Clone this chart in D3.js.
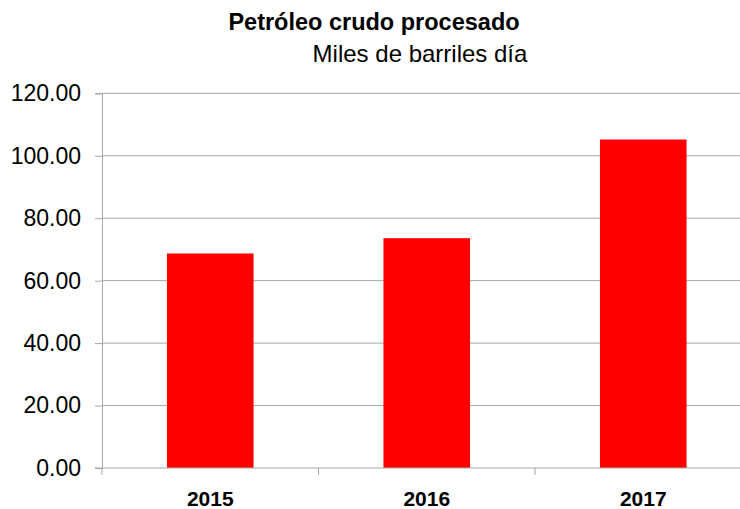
<!DOCTYPE html>
<html>
<head>
<meta charset="utf-8">
<script src="https://cdn.jsdelivr.net/npm/d3@7"></script>
<style>
  html, body { margin: 0; padding: 0; background: #fff; }
  svg { display: block; font-family: "Liberation Sans", Arial, sans-serif; }
</style>
</head>
<body>
<svg id="chart" width="740" height="509"></svg>
<script>
var years = ['2015', '2016', '2017'];
var barrels = [68.7, 73.6, 105.2];
var yTicks = [0, 20, 40, 60, 80, 100, 120];

(function () {
  'use strict';

  var svg = d3.select('#chart');
  var left = 102, top = 93.3, bottom = 468, band = 216.5;

  var x = d3.scaleBand()
    .domain(years)
    .range([left, left + band * years.length])
    .paddingInner(0.6)
    .paddingOuter(0.3);

  var y = d3.scaleLinear()
    .domain([0, 120])
    .range([bottom, top]);

  // gridlines
  svg.append('g')
    .selectAll('line')
    .data(yTicks.slice(1))
    .enter()
    .append('line')
    .attr('x1', left)
    .attr('x2', 740)
    .attr('y1', function (d) { return y(d); })
    .attr('y2', function (d) { return y(d); })
    .attr('stroke', '#a6a6a6')
    .attr('stroke-width', 1);

  // bars
  svg.append('g')
    .selectAll('rect')
    .data(barrels)
    .enter()
    .append('rect')
    .attr('x', function (d, i) { return x(years[i]); })
    .attr('width', x.bandwidth())
    .attr('y', function (d) { return y(d); })
    .attr('height', function (d) { return y(0) - y(d); })
    .attr('fill', '#ff0000');

  // y axis
  var yAxis = svg.append('g')
    .attr('transform', 'translate(' + left + ',0)')
    .call(d3.axisLeft(y).tickValues(yTicks).tickSize(7).tickPadding(14)
      .tickFormat(d3.format('.2f')));
  yAxis.selectAll('line, path').attr('stroke', '#a6a6a6');
  yAxis.selectAll('text')
    .attr('fill', '#000')
    .style('font-size', '23px')
    .style('font-family', '"Liberation Sans", Arial, sans-serif');

  // x axis: ticks at category boundaries
  var bounds = d3.range(years.length + 1).map(function (i) { return left + band * i; });
  var xAxis = svg.append('g').attr('class', 'x-axis');
  xAxis.append('line')
    .attr('x1', left - 7).attr('x2', 740)
    .attr('y1', bottom).attr('y2', bottom)
    .attr('stroke', '#a6a6a6');
  xAxis.selectAll('line.tick')
    .data(bounds)
    .enter()
    .append('line')
    .attr('class', 'tick')
    .attr('x1', function (d) { return d; })
    .attr('x2', function (d) { return d; })
    .attr('y1', bottom)
    .attr('y2', bottom + 7)
    .attr('stroke', '#a6a6a6');
  xAxis.selectAll('text')
    .data(years)
    .enter()
    .append('text')
    .attr('x', function (d) { return x(d) + x.bandwidth() / 2; })
    .attr('y', 506)
    .attr('text-anchor', 'middle')
    .style('font-size', '21px')
    .style('font-weight', 'bold')
    .text(function (d) { return d; });

  // titles
  svg.append('text')
    .attr('x', 374)
    .attr('y', 30)
    .attr('text-anchor', 'middle')
    .style('font-size', '23.5px')
    .style('font-weight', 'bold')
    .text('Petróleo crudo procesado');

  svg.append('text')
    .attr('x', 420)
    .attr('y', 62)
    .attr('text-anchor', 'middle')
    .style('font-size', '24px')
    .text('Miles de barriles día');
})();
</script>
</body>
</html>
